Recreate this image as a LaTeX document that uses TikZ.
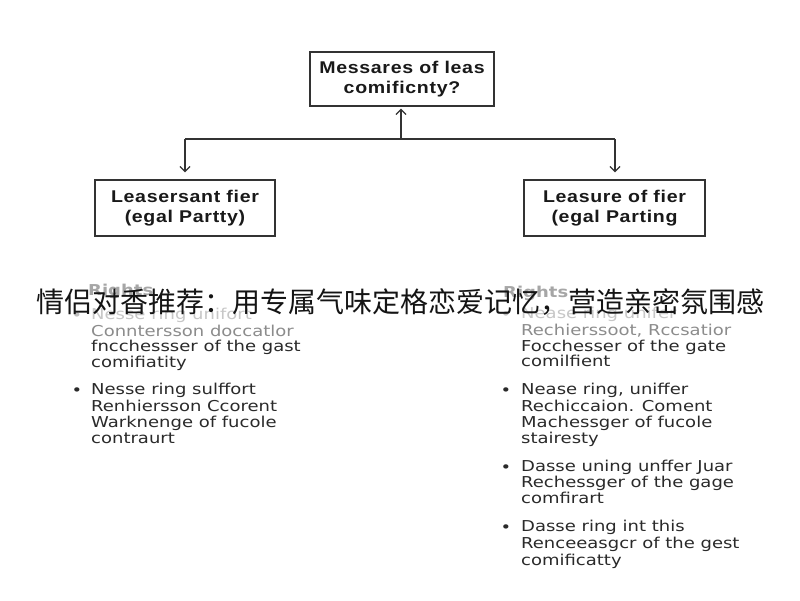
\documentclass[tikz,border=0pt]{standalone}
\usepackage{fontspec}
\usetikzlibrary{arrows.meta}
\newfontfamily\boxfont{Liberation Sans}[FakeStretch=1.15,LetterSpace=4]
\newfontfamily\listfont{DejaVu Sans}[FakeStretch=1.2]
\newfontfamily\cjkfont{Noto Sans CJK SC}
\definecolor{ink}{HTML}{2A2A2A}
\definecolor{boxline}{HTML}{333333}
\tikzset{
  box/.style={draw=boxline, line width=1.4pt, inner sep=0pt, align=center,
    text=black!90, font=\boxfont\bfseries\fontsize{17}{20}\selectfont},
  conn/.style={draw=boxline, line width=1.2pt},
  arr/.style={conn, -{Straight Barb[length=5pt,width=10pt,line width=1.2pt]}},
  ln/.style={anchor=base west, inner sep=0pt, text=ink,
    font=\listfont\fontsize{15}{16}\selectfont},
  faint/.style={ln, text=black!22},
  pale/.style={ln, text=black!45},
  bul/.style={inner sep=0pt, text=ink, font=\listfont\fontsize{15}{16}\selectfont},
  title/.style={inner sep=0pt, text=black!92, font=\cjkfont\fontsize{28}{28}\selectfont}
}
\begin{document}
\begin{tikzpicture}[x=1pt,y=-1pt]
\useasboundingbox[fill=white] (0,0) rectangle (800,600);

% boxes
\node[box, minimum width=184pt, minimum height=54pt] (top) at (402,79)
  {Messares of leas\\comificnty?};
\node[box, minimum width=180pt, minimum height=56pt] (left) at (185,208)
  {Leasersant fier\\(egal Partty)};
\node[box, minimum width=181pt, minimum height=56pt] (right) at (614.5,208)
  {Leasure of fier\\(egal Parting};

% connectors
\coordinate (j) at (401,139);
\coordinate (jl) at (185,139);
\coordinate (jr) at (615,139);
\draw[conn] (jl) -- (jr);
\draw[arr, shorten >=2pt] (j) -- (j |- top.south);
\draw[arr, shorten >=7pt] (jl) -- (jl |- left.north);
\draw[arr, shorten >=7pt] (jr) -- (jr |- right.north);

% left column
\node[ln, text=black!35, font=\listfont\bfseries\fontsize{15}{16}\selectfont] (lr) at (88,295) {Rights};
\node[bul, text=black!25] (lb1) at (77,317) {•};
\node[faint] (l11) at (91,319) {Nesse ring unifort};
\node[pale] (l12) at (91,336) {Conntersson doccatlor};
\node[ln] (l13) at (91,351) {fncchessser of the gast};
\node[ln] (l14) at (91,367) {comifiatity};
\node[bul] (lb2) at (77,392) {•};
\node[ln] (l21) at (91,394) {Nesse ring sulffort};
\node[ln] (l22) at (91,411) {Renhiersson Ccorent};
\node[ln] (l23) at (91,427) {Warknenge of fucole};
\node[ln] (l24) at (91,443) {contraurt};

% right column
\node[ln, text=black!35, font=\listfont\bfseries\fontsize{15}{16}\selectfont] (rr) at (503,297) {Rights};
\node[bul, text=black!25] (rb1) at (506,316) {•};
\node[faint] (r11) at (521,318) {Nease ring unifer};
\node[pale] (r12) at (521,335) {Rechierssoot, Rccsatior};
\node[ln] (r13) at (521,351) {Focchesser of the gate};
\node[ln] (r14) at (521,366) {comilfient};
\node[bul] (rb2) at (506,392) {•};
\node[ln] (r21) at (521,394) {Nease ring, uniffer};
\node[ln] (r22) at (521,411) {Rechiccaion. Coment};
\node[ln] (r23) at (521,427) {Machessger of fucole};
\node[ln] (r24) at (521,443) {stairesty};
\node[bul] (rb3) at (506,469) {•};
\node[ln] (r31) at (521,471) {Dasse uning unffer Juar};
\node[ln] (r32) at (521,487) {Rechessger of the gage};
\node[ln] (r33) at (521,503) {comfirart};
\node[bul] (rb4) at (506,529) {•};
\node[ln] (r41) at (521,531) {Dasse ring int this};
\node[ln] (r42) at (521,548) {Renceeasgcr of the gest};
\node[ln] (r43) at (521,565) {comificatty};

% title overlay
\node[title] (ttl) at (400,302) {情侣对香推荐：用专属气味定格恋爱记忆，营造亲密氛围感};
\end{tikzpicture}
\end{document}
